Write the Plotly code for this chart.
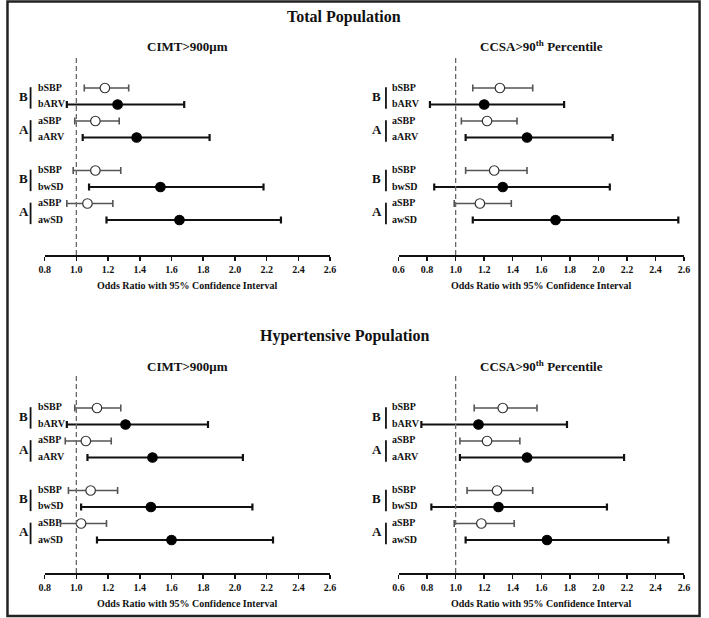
import plotly.graph_objects as go

W, H = 709, 618
FONT = "Liberation Serif, Times New Roman, serif"

# ---------------- data ----------------
row_labels = ["bSBP", "bARV", "aSBP", "aARV", "bSBP", "bwSD", "aSBP", "awSD"]
group_labels = ["B", "A", "B", "A"]
tick_vals_cimt = [0.8, 1.0, 1.2, 1.4, 1.6, 1.8, 2.0, 2.2, 2.4, 2.6]
tick_vals_ccsa = [0.6, 0.8, 1.0, 1.2, 1.4, 1.6, 1.8, 2.0, 2.2, 2.4, 2.6]

# Total population, CIMT>900um
total_cimt_or = [1.18, 1.26, 1.12, 1.38, 1.12, 1.53, 1.07, 1.65]
total_cimt_lo = [1.05, 0.94, 0.99, 1.04, 0.98, 1.08, 0.94, 1.19]
total_cimt_hi = [1.33, 1.68, 1.27, 1.84, 1.28, 2.18, 1.23, 2.29]

# Total population, CCSA>90th percentile
total_ccsa_or = [1.31, 1.20, 1.22, 1.50, 1.27, 1.33, 1.17, 1.70]
total_ccsa_lo = [1.12, 0.82, 1.04, 1.07, 1.07, 0.85, 0.99, 1.12]
total_ccsa_hi = [1.54, 1.76, 1.43, 2.10, 1.50, 2.08, 1.39, 2.56]

# Hypertensive population, CIMT>900um
hyper_cimt_or = [1.13, 1.31, 1.06, 1.48, 1.09, 1.47, 1.03, 1.60]
hyper_cimt_lo = [0.99, 0.94, 0.93, 1.07, 0.95, 1.03, 0.90, 1.13]
hyper_cimt_hi = [1.28, 1.83, 1.22, 2.05, 1.26, 2.11, 1.19, 2.24]

# Hypertensive population, CCSA>90th percentile
hyper_ccsa_or = [1.33, 1.16, 1.22, 1.50, 1.29, 1.30, 1.18, 1.64]
hyper_ccsa_lo = [1.13, 0.76, 1.03, 1.03, 1.08, 0.83, 0.99, 1.07]
hyper_ccsa_hi = [1.57, 1.78, 1.45, 2.18, 1.54, 2.06, 1.41, 2.49]

# ---------------- layout helpers ----------------
def px_x(p):
    return p / W

def px_y(p):
    return 1 - p / H

# row positions: 8 rows, with one blank slot between the two blocks
ypos = [8 - i - (1 if i >= 4 else 0) for i in range(len(row_labels))]

panels = [
    dict(o=total_cimt_or, lo=total_cimt_lo, hi=total_cimt_hi, ax="", xpx=(39.3, 329.7),
         ypx=(255, 55), yr=[-2.12, 10], xr=[0.8, 2.6], ticks=tick_vals_cimt,
         sub="CIMT>900μm", lab_x=31, bar_x=25, grp_x=18),
    dict(o=total_ccsa_or, lo=total_ccsa_lo, hi=total_ccsa_hi, ax="2", xpx=(399.3, 689.7),
         ypx=(255, 55), yr=[-2.12, 10], xr=[0.6, 2.6], ticks=tick_vals_ccsa,
         sub="CCSA>90<sup>th</sup> Percentile", lab_x=391, bar_x=386.5, grp_x=377),
    dict(o=hyper_cimt_or, lo=hyper_cimt_lo, hi=hyper_cimt_hi, ax="3", xpx=(39.3, 329.7),
         ypx=(573, 375), yr=[-2.0, 10], xr=[0.8, 2.6], ticks=tick_vals_cimt,
         sub="CIMT>900μm", lab_x=31, bar_x=25, grp_x=18),
    dict(o=hyper_ccsa_or, lo=hyper_ccsa_lo, hi=hyper_ccsa_hi, ax="4", xpx=(399.3, 689.7),
         ypx=(573, 375), yr=[-2.0, 10], xr=[0.6, 2.6], ticks=tick_vals_ccsa,
         sub="CCSA>90<sup>th</sup> Percentile", lab_x=391, bar_x=386.5, grp_x=377),
]

fig = go.Figure()
shapes = []
annotations = []
layout_axes = {}

for p in panels:
    ax = p["ax"]
    xref = "x" + ax
    yref = "y" + ax
    idx_sbp = [i for i in range(8) if i % 2 == 0]
    idx_var = [i for i in range(8) if i % 2 == 1]
    for idxs, is_sbp in ((idx_sbp, True), (idx_var, False)):
        o = [p["o"][i] for i in idxs]
        lo = [p["lo"][i] for i in idxs]
        hi = [p["hi"][i] for i in idxs]
        y = [ypos[i] for i in idxs]
        fig.add_trace(go.Scatter(
            x=o, y=y, xaxis=xref, yaxis=yref, mode="markers",
            marker=dict(size=9.5, symbol="circle",
                        color="white" if is_sbp else "black",
                        line=dict(color="#333333" if is_sbp else "black", width=1.2)),
            error_x=dict(type="data", symmetric=False,
                         array=[h - v for h, v in zip(hi, o)],
                         arrayminus=[v - l for v, l in zip(o, lo)],
                         color="#555555" if is_sbp else "#111111",
                         thickness=1.6 if is_sbp else 2.2, width=3.5),
            hoverinfo="skip", showlegend=False,
        ))

    xa = "xaxis" + ax
    ya = "yaxis" + ax
    layout_axes[xa] = dict(
        domain=[px_x(p["xpx"][0]), px_x(p["xpx"][1])], range=p["xr"],
        anchor=yref, showgrid=False, zeroline=False, showline=True,
        linecolor="#111111", linewidth=2, ticks="outside", ticklen=4,
        tickwidth=1.5, tickcolor="#111111", tickvals=p["ticks"],
        ticktext=["%.1f" % t for t in p["ticks"]],
        tickfont=dict(family=FONT, size=10, color="#111111", weight="bold"),
        fixedrange=True,
    )
    layout_axes[ya] = dict(
        domain=[px_y(p["ypx"][0]), px_y(p["ypx"][1])], range=p["yr"],
        anchor=xref, visible=False, fixedrange=True,
    )

    # dashed reference line at OR = 1
    shapes.append(dict(type="line", xref=xref, yref=yref + " domain", x0=1.0, x1=1.0,
                       y0=0, y1=1, line=dict(color="#666666", width=1.3, dash="5px,3px")))

    # row labels
    for i, lab in enumerate(row_labels):
        annotations.append(dict(text="<b>%s</b>" % lab, xref="paper", yref=yref,
                                x=px_x(p["lab_x"]), y=ypos[i], xanchor="left",
                                yanchor="middle", yshift=1, showarrow=False,
                                font=dict(family=FONT, size=10, color="#111111")))
    # group letters and bars
    for g, glab in enumerate(group_labels):
        top = ypos[2 * g]
        bot = ypos[2 * g + 1]
        shapes.append(dict(type="line", xref="paper", yref=yref,
                           x0=px_x(p["bar_x"]), x1=px_x(p["bar_x"]),
                           y0=bot - 0.25, y1=top + 0.05,
                           line=dict(color="#111111", width=1.8)))
        annotations.append(dict(text="<b>%s</b>" % glab, xref="paper", yref=yref,
                                x=px_x(p["grp_x"]), y=(top + bot) / 2, xanchor="center",
                                yanchor="middle", showarrow=False,
                                font=dict(family=FONT, size=13, color="#111111")))

    # subtitle
    cx = (p["xpx"][0] + p["xpx"][1]) / 2
    sub_y = 46 if p["ypx"][0] < 300 else 366
    annotations.append(dict(text="<b>%s</b>" % p["sub"], xref="paper", yref="paper",
                            x=px_x(cx), y=px_y(sub_y), xanchor="center", yanchor="middle",
                            showarrow=False, font=dict(family=FONT, size=13, color="#111111")))
    # axis title
    annotations.append(dict(text="<b>Odds Ratio with 95% Confidence Interval</b>",
                            xref="paper", yref="paper", x=px_x(cx),
                            y=px_y(p["ypx"][0] + 30), xanchor="center", yanchor="middle",
                            showarrow=False, font=dict(family=FONT, size=10, color="#111111")))

# section titles
for txt, py in (("Total Population", 17), ("Hypertensive Population", 336)):
    annotations.append(dict(text="<b>%s</b>" % txt, xref="paper", yref="paper",
                            x=px_x(344), y=px_y(py), xanchor="center", yanchor="middle",
                            showarrow=False, font=dict(family=FONT, size=16, color="#111111")))

# outer frame
shapes.append(dict(type="rect", xref="paper", yref="paper",
                   x0=px_x(1.5), x1=px_x(705.5), y0=px_y(616), y1=px_y(1.5),
                   line=dict(color="#222222", width=2.5)))

fig.update_layout(
    width=W, height=H, margin=dict(l=0, r=0, t=0, b=0),
    paper_bgcolor="white", plot_bgcolor="white", showlegend=False,
    shapes=shapes, annotations=annotations, **layout_axes,
)

fig.write_html(
    "out.html",
    config={"displayModeBar": False, "staticPlot": True},
    post_script="document.body.style.margin='0';document.body.style.padding='0';"
                "document.body.style.overflow='hidden';",
)
